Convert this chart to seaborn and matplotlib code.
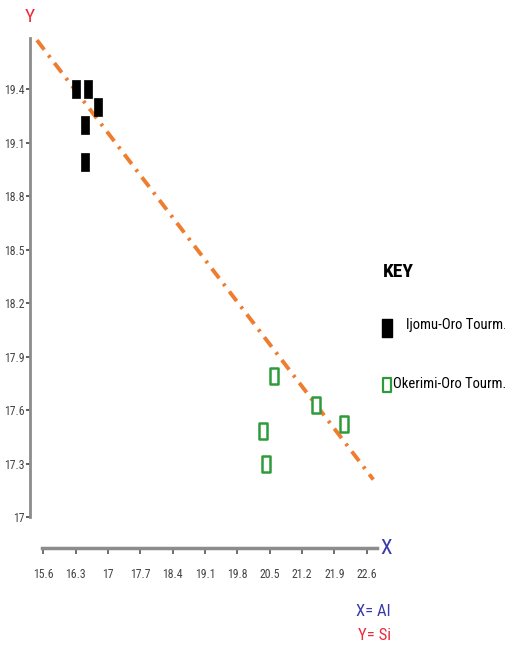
import matplotlib
matplotlib.use('Agg')
import matplotlib.pyplot as plt
import seaborn as sns
import pandas as pd
from matplotlib.path import Path
from matplotlib.lines import Line2D

# Data (X = Al, Y = Si)
ijomu_al = [16.30, 16.57, 16.78, 16.50, 16.50]
ijomu_si = [19.40, 19.40, 19.30, 19.20, 18.99]
okerimi_al = [20.59, 21.50, 22.10, 20.35, 20.42]
okerimi_si = [17.79, 17.63, 17.52, 17.48, 17.30]
trend_al = [15.46, 22.74]
trend_si = [19.675, 17.21]

x_ticks = [15.6, 16.3, 17.0, 17.7, 18.4, 19.1, 19.8, 20.5, 21.2, 21.9, 22.6]
x_labels = ['15.6', '16.3', '17', '17.7', '18.4', '19.1', '19.8', '20.5', '21.2', '21.9', '22.6']
y_ticks = [17.0, 17.3, 17.6, 17.9, 18.2, 18.5, 18.8, 19.1, 19.4]
y_labels = ['17', '17.3', '17.6', '17.9', '18.2', '18.5', '18.8', '19.1', '19.4']

sns.set_style('white')
plt.rcParams['font.family'] = ['Roboto Condensed', 'Archivo Narrow', 'PT Sans Narrow',
                               'Liberation Sans', 'DejaVu Sans']


def tall_rect(w):
    return Path([(-w, -1), (w, -1), (w, 1), (-w, 1), (-w, -1)],
                [Path.MOVETO, Path.LINETO, Path.LINETO, Path.LINETO, Path.CLOSEPOLY])


df1 = pd.DataFrame({'Al': ijomu_al, 'Si': ijomu_si})
df2 = pd.DataFrame({'Al': okerimi_al, 'Si': okerimi_si})
dft = pd.DataFrame({'Al': trend_al, 'Si': trend_si})

fig = plt.figure(figsize=(5.06, 6.53), dpi=100)
ax = fig.add_axes([30 / 506, 1 - 517 / 653, 347 / 506, 479 / 653])

sns.lineplot(data=dft, x='Al', y='Si', ax=ax, color='#ef7d2f', linewidth=2.8,
             linestyle=(0, (3.1, 1.8, 0.7, 1.8)), zorder=1)
sns.scatterplot(data=df1, x='Al', y='Si', ax=ax, marker=tall_rect(0.42), s=150,
                color='black', edgecolor='black', linewidth=0.5, zorder=3)
sns.scatterplot(data=df2, x='Al', y='Si', ax=ax, marker=tall_rect(0.48), s=120,
                facecolor='white', edgecolor='#2e9a3a', linewidth=1.8, zorder=3)

ax.set_xlim(15.31, 22.82)
ax.set_ylim(17.0, 19.687)
ax.set_xticks(x_ticks)
ax.set_xticklabels(x_labels)
ax.set_yticks(y_ticks)
ax.set_yticklabels(y_labels)
ax.set_xlabel('')
ax.set_ylabel('')

for s in ['top', 'right']:
    ax.spines[s].set_visible(False)
ax.spines['left'].set_color('#8c8c8c')
ax.spines['left'].set_linewidth(2)
ax.spines['bottom'].set_color('#8c8c8c')
ax.spines['bottom'].set_linewidth(2.5)
ax.spines['bottom'].set_position(('outward', 22))
ax.spines['bottom'].set_bounds(15.58, 22.82)

ax.tick_params(axis='y', direction='out', length=3, width=1.2, color='#444444',
               labelsize=8.5, labelcolor='#444444', pad=1, left=True)
ax.tick_params(axis='x', direction='out', length=4, width=1.2, color='#555555',
               labelsize=8.5, labelcolor='#444444', pad=11, bottom=True)

# axis letters
fig.text(30 / 506, 1 - 17 / 653, 'Y', color='#ee2a3a', fontsize=14, ha='center', va='center')
fig.text(386 / 506, 1 - 548 / 653, 'X', color='#3a3aa8', fontsize=15, ha='center', va='center')
fig.text(391 / 506, 1 - 611 / 653, 'X= Al', color='#3a3aa8', fontsize=12, ha='right', va='center')
fig.text(391 / 506, 1 - 636 / 653, 'Y= Si', color='#ee2a3a', fontsize=12, ha='right', va='center')

# key
fig.text(383 / 506, 1 - 272 / 653, 'KEY', color='black', fontsize=14, fontweight='bold',
         ha='left', va='center')
fig.add_artist(Line2D([386.5 / 506], [1 - 328 / 653], marker=tall_rect(0.5), linestyle='none',
                      markersize=13, color='black', transform=fig.transFigure))
fig.add_artist(Line2D([386.5 / 506], [1 - 385 / 653], marker=tall_rect(0.62), linestyle='none',
                      markersize=10, markerfacecolor='white', markeredgecolor='#2e9a3a',
                      markeredgewidth=1.6, transform=fig.transFigure))
fig.text(406 / 506, 1 - 325 / 653, 'Ijomu-Oro Tourm.', color='black', fontsize=10.5,
         ha='left', va='center')
fig.text(393 / 506, 1 - 384 / 653, 'Okerimi-Oro Tourm.', color='black', fontsize=10.5,
         ha='left', va='center')

fig.savefig('out.png', dpi=100)
